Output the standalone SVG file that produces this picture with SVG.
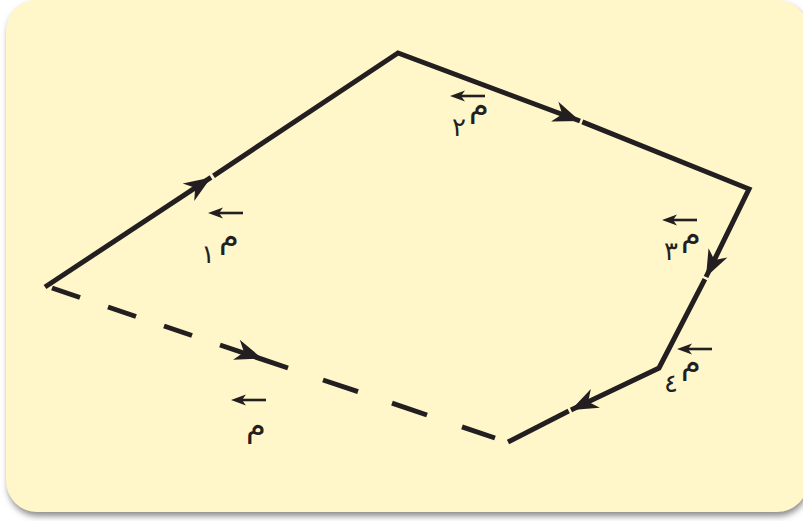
<svg xmlns="http://www.w3.org/2000/svg" width="803" height="521" viewBox="0 0 803 521">
<defs>
<filter id="sh" x="-5%" y="-5%" width="110%" height="115%">
<feGaussianBlur stdDeviation="3"/>
</filter>
<path id="ah" d="M0,0 L-27,-10.5 L-19,0 L-27,10.5 Z"/>
<path id="sa" d="M0,0 L15,-5.5 L11,0 L15,5.5 Z"/>
</defs>
<style>
.ln{fill:none;stroke:#231f20;stroke-width:5;stroke-linejoin:miter;stroke-linecap:butt}
.hd{fill:#231f20}
.va{stroke:#231f20;stroke-width:2.6;fill:none}
.m{font-family:"DejaVu Sans",sans-serif;font-size:32px;fill:#231f20;text-anchor:middle}
.d{font-family:"DejaVu Sans",sans-serif;font-size:26px;fill:#231f20;text-anchor:middle}
</style>
<rect x="8" y="4" width="800" height="512" rx="30" fill="#8a8a8a" filter="url(#sh)"/>
<rect x="6" y="0" width="802" height="512" rx="31" fill="#fff6ca"/>
<g id="connectors">
<polyline class="ln" points="45,287 211,177.4"/>
<polyline class="ln" points="213.5,175.8 398,53 580,121"/>
<polyline class="ln" points="582.3,121.9 749,189 706,277"/>
<polyline class="ln" points="704.9,279.2 659,368 571,410"/>
<polyline class="ln" points="568.7,411.1 508,442"/>
<line class="ln" x1="52" y1="288" x2="80" y2="297.5"/>
<line class="ln" x1="108" y1="307" x2="136" y2="316.5"/>
<line class="ln" x1="164" y1="326" x2="192" y2="335.5"/>
<line class="ln" x1="220" y1="345" x2="288" y2="368"/>
<line class="ln" x1="323" y1="380" x2="358" y2="391.6"/>
<line class="ln" x1="392" y1="403.1" x2="427" y2="415"/>
<line class="ln" x1="462" y1="426.8" x2="495" y2="438"/>
<use href="#ah" class="hd" transform="translate(211,177.4) rotate(-33.4)"/>
<use href="#ah" class="hd" transform="translate(580,121) rotate(20.5)"/>
<use href="#ah" class="hd" transform="translate(706,277) rotate(116.3)"/>
<use href="#ah" class="hd" transform="translate(571,410) rotate(154.5)"/>
<use href="#ah" class="hd" transform="translate(262,358.4) rotate(18.7)"/>
</g>
<g id="label1">
<line class="va" x1="218" y1="213" x2="243" y2="213"/>
<use href="#sa" class="hd" transform="translate(208,213)"/>
<text class="m" x="229" y="247">م</text>
<text class="d" x="208" y="263">١</text>
</g>
<g id="label2">
<line class="va" x1="460" y1="96" x2="485" y2="96"/>
<use href="#sa" class="hd" transform="translate(450,96)"/>
<text class="m" x="479" y="116">م</text>
<text class="d" x="459" y="136">٢</text>
</g>
<g id="label3">
<line class="va" x1="672" y1="220" x2="697" y2="220"/>
<use href="#sa" class="hd" transform="translate(662,220)"/>
<text class="m" x="691" y="245">م</text>
<text class="d" x="671" y="260">٣</text>
</g>
<g id="label4">
<line class="va" x1="687" y1="349" x2="712" y2="349"/>
<use href="#sa" class="hd" transform="translate(677,349)"/>
<text class="m" x="691" y="373">م</text>
<text class="d" x="671" y="392">٤</text>
</g>
<g id="label5">
<line class="va" x1="241" y1="400" x2="266" y2="400"/>
<use href="#sa" class="hd" transform="translate(231,400)"/>
<text class="m" x="256" y="436">م</text>
</g>
</svg>
